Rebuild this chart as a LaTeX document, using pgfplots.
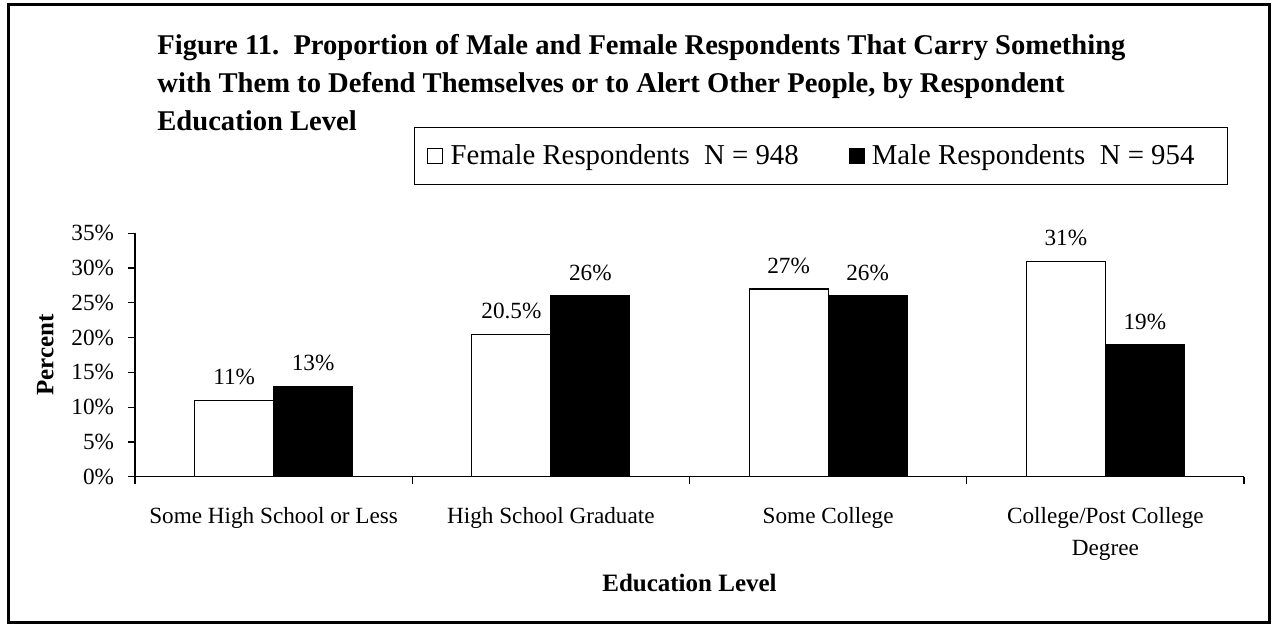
\documentclass[border=0pt]{standalone}
\usepackage{pgfplots}
\pgfplotsset{compat=1.18}
\usepackage{fontspec}
\setmainfont{Liberation Serif}
\begin{document}
\begin{tikzpicture}
\useasboundingbox (0,0) rectangle (636.5pt,-313pt);
\draw[line width=1.5pt] (4pt,-2.5pt) rectangle (634.5pt,-311pt);
\node[anchor=base west, inner sep=0pt, font=\bfseries\fontsize{14.3}{16}\selectfont] at (78.5pt,-27.5pt) {Figure 11.\ \ Proportion of Male and Female Respondents That Carry Something};
\node[anchor=base west, inner sep=0pt, font=\bfseries\fontsize{14.3}{16}\selectfont] at (78.5pt,-46.25pt) {with Them to Defend Themselves or to Alert Other People, by Respondent};
\node[anchor=base west, inner sep=0pt, font=\bfseries\fontsize{14.3}{16}\selectfont] at (78.5pt,-65pt) {Education Level};
\begin{axis}[
  at={(67.5pt,-238.35pt)}, anchor=south west,
  scale only axis, width=554.5pt, height=121.7pt,
  ybar=0pt, bar width=39.5pt,
  xmin=-0.5, xmax=3.5, ymin=0, ymax=35,
  axis x line=bottom, axis y line=left,
  axis line style={-, line width=0.6pt, black},
  xtick={0,1,2,3},
  xticklabels={Some High School or Less, High School Graduate, Some College, {College/Post College\\Degree}},
  major x tick style={draw=none},
  minor xtick={-0.5,0.5,1.5,2.5,3.5},
  ytick={0,5,...,35},
  yticklabel={\pgfmathprintnumber{\tick}\%},
  /pgf/number format/assume math mode=true,
  tick align=outside, major tick length=3.5pt, minor tick length=3.5pt,
  tick style={black, line width=0.6pt},
  ticklabel style={font=\fontsize{11.6}{16}\selectfont},
  xticklabel style={align=center, yshift=-8.5pt},
  yticklabel style={xshift=-3.5pt},
  xlabel={Education Level}, ylabel={Percent},
  xlabel style={font=\bfseries\fontsize{12.5}{14}\selectfont},
  ylabel style={font=\bfseries\fontsize{12.5}{14}\selectfont, yshift=2pt},
  nodes near coords={\pgfmathprintnumber{\pgfplotspointmeta}\%},
  nodes near coords style={font=\fontsize{11.6}{13}\selectfont, anchor=south, yshift=4pt},
  legend columns=2,
  legend style={at={(0.2516,1.4367)}, anchor=north west, draw=black, line width=0.4pt,
    font=\fontsize{14.4}{16}\selectfont, inner xsep=6.5pt, inner ysep=6.5pt,
    /tikz/every even column/.append style={column sep=23pt}},
]
\addplot[fill=white, draw=black, line width=0.6pt,
  legend image code/.code={\draw[fill=white, draw=black, line width=0.5pt] (0pt,-3.75pt) rectangle (7.5pt,3.75pt); \path (9pt,0pt);}]
  coordinates {(0,11) (1,20.5) (2,27) (3,31)};
\addlegendentry{Female Respondents\ \ N = 948}
\addplot[fill=black, draw=black, line width=0.6pt,
  legend image code/.code={\draw[fill=black, draw=black, line width=0.5pt] (0pt,-3.75pt) rectangle (7.5pt,3.75pt); \path (9pt,0pt);}]
  coordinates {(0,13) (1,26) (2,26) (3,19)};
\addlegendentry{Male Respondents\ \ N = 954\kern 8pt\relax}
\end{axis}
\end{tikzpicture}
\end{document}
